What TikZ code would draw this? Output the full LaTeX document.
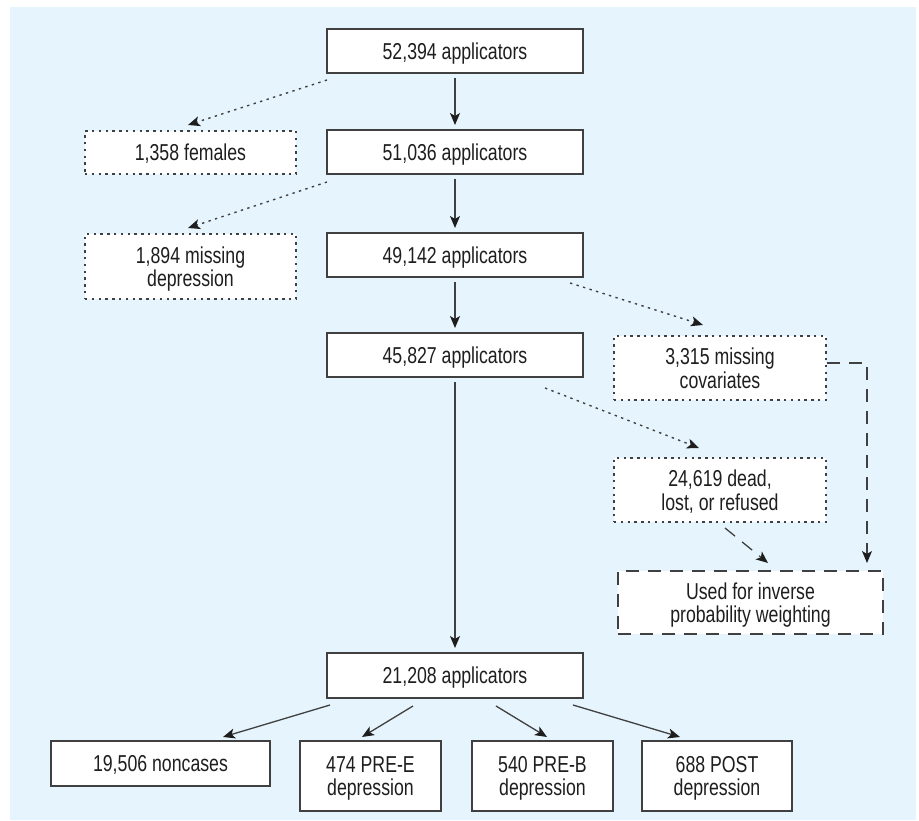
\documentclass[tikz,border=0pt]{standalone}
\usepackage{fontspec}
\setmainfont{Liberation Sans}[FakeStretch=0.77]
\usetikzlibrary{arrows.meta,calc}
\definecolor{bgblue}{RGB}{230,245,253}
\definecolor{linegray}{RGB}{64,64,64}
\definecolor{tipgray}{RGB}{30,30,30}
\definecolor{txt}{RGB}{30,30,30}
\begin{document}
\begin{tikzpicture}[x=1pt,y=-1pt,
  every node/.style={font=\fontsize{23pt}{23.5pt}\selectfont, text=txt, align=center, inner sep=0pt, outer sep=0pt, text depth=0pt},
  solidbox/.style={draw=linegray, line width=1.3pt, fill=white},
  dotbox/.style={draw=linegray, line width=1.4pt, fill=white, dash pattern=on 2.4pt off 4.4pt},
  dashbox/.style={draw=linegray, line width=1.3pt, fill=white, dash pattern=on 13pt off 9pt},
  tipstyle/.style={-{Stealth[length=12pt,width=10pt,inset=3pt,fill=tipgray,color=tipgray]}},
  flow/.style={draw=linegray, line width=1.3pt, tipstyle},
  dotflow/.style={draw=linegray, line width=1.4pt, dash pattern=on 2.4pt off 4.4pt, tipstyle},
  dashflow/.style={draw=linegray, line width=1.3pt, dash pattern=on 13pt off 9pt, tipstyle}
]
\useasboundingbox (0,0) rectangle (919,821);
\fill[bgblue] (10,7) rectangle (916,820);

% main column
\node[solidbox, minimum width=256pt, minimum height=44pt] (n1) at (455,51) {52,394 applicators};
\node[solidbox, minimum width=256pt, minimum height=44pt] (n2) at (455,152) {51,036 applicators};
\node[solidbox, minimum width=256pt, minimum height=44pt] (n3) at (455,255) {49,142 applicators};
\node[solidbox, minimum width=256pt, minimum height=44pt] (n4) at (455,355) {45,827 applicators};
\node[solidbox, minimum width=256pt, minimum height=45pt] (n5) at (455,675.5) {21,208 applicators};

% exclusions
\node[dotbox, minimum width=211pt, minimum height=43pt] (f) at (190.5,152.5) {1,358 females};
\node[dotbox, minimum width=211pt, minimum height=65pt] (md) at (190.5,266.5) {1,894 missing\\depression};
\node[dotbox, minimum width=212pt, minimum height=64pt] (mc) at (720,368) {3,315 missing\\covariates};
\node[dotbox, minimum width=212pt, minimum height=64pt] (dl) at (720,490) {24,619 dead,\\lost, or refused};
\node[dashbox, minimum width=265pt, minimum height=63pt] (ipw) at (750.5,602.5) {Used for inverse\\probability weighting};

% outcomes
\node[solidbox, minimum width=219pt, minimum height=45pt] (nc) at (160.5,763.5) {19,506 noncases};
\node[solidbox, minimum width=141pt, minimum height=70pt] (pe) at (370.5,776) {474 PRE-E\\depression};
\node[solidbox, minimum width=141pt, minimum height=70pt] (pb) at (542.5,776) {540 PRE-B\\depression};
\node[solidbox, minimum width=150pt, minimum height=70pt] (po) at (717,776) {688 POST\\depression};

% vertical flow
\draw[flow, shorten <=5pt, shorten >=5pt] (n1.south) -- (n2.north);
\draw[flow, shorten <=5pt, shorten >=5pt] (n2.south) -- (n3.north);
\draw[flow, shorten <=5pt, shorten >=5pt] (n3.south) -- (n4.north);
\draw[flow, shorten <=5pt, shorten >=5pt] (n4.south) -- (n5.north);

% dotted exclusion arrows
\draw[dotflow] ([yshift=-7pt]n1.south west) -- ([xshift=-2.5pt,yshift=6pt]f.north);
\draw[dotflow] ([yshift=-8pt]n2.south west) -- ([xshift=-2.5pt,yshift=6pt]md.north);
\draw[dotflow] ([xshift=-13pt,yshift=-6pt]n3.south east) -- ([xshift=-17pt,yshift=11pt]mc.north);
\draw[dotflow] ([xshift=-38pt,yshift=-11pt]n4.south east) -- ([xshift=-21pt,yshift=10pt]dl.north);

% dashed arrows to IPW
\draw[dashflow] ([xshift=5pt,yshift=-6pt]dl.south) -- ([xshift=17.5pt,yshift=8pt]ipw.north);
\draw[dashflow] ([xshift=1pt,yshift=5pt]mc.east) -| ([xshift=-16pt,yshift=8pt]ipw.north east);

% outcome arrows
\draw[flow] ([xshift=3pt,yshift=-7pt]n5.south west) -- ([xshift=62.5pt,yshift=4pt]nc.north);
\draw[flow] ([xshift=-42pt,yshift=-8pt]n5.south) -- ([xshift=-8.5pt,yshift=4pt]pe.north);
\draw[flow] ([xshift=41pt,yshift=-8pt]n5.south) -- ([xshift=4.5pt,yshift=4pt]pb.north);
\draw[flow] ([xshift=-10pt,yshift=-7pt]n5.south east) -- ([xshift=-37pt,yshift=4pt]po.north);
\end{tikzpicture}
\end{document}
